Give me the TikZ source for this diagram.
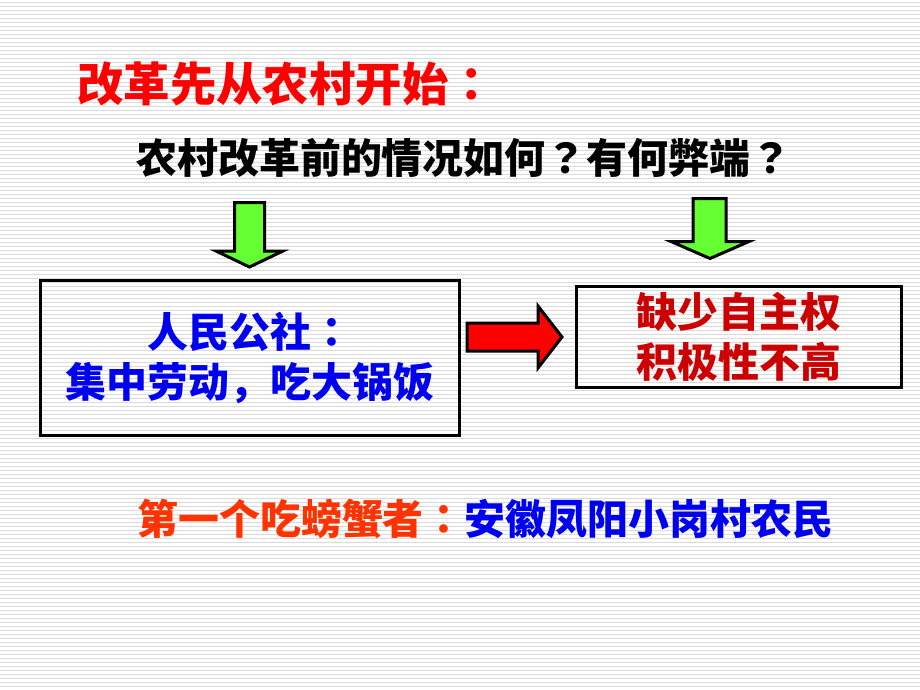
\documentclass[tikz,border=0pt]{standalone}
\usepackage{fontspec}
\setmainfont{Noto Sans CJK SC}
\newfontfamily\jpfont{Noto Sans CJK JP}
\newcommand{\midpunct}[1]{{\jpfont #1}}
\definecolor{titlered}{HTML}{FF0000}
\definecolor{lackred}{HTML}{CC0000}
\definecolor{communeblue}{HTML}{0000F0}
\definecolor{pioneerorange}{HTML}{FF3300}
\definecolor{arrowgreen}{HTML}{66FF33}
\begin{document}
\begin{tikzpicture}[x = 0.02cm, y = -0.02cm,
	stripe/.style = {draw = gray!28, line width = 0.02cm},
	txt/.style = {inner sep = 0pt, font = \fontsize{23.3pt}{28.5pt}\selectfont\bfseries},
	box/.style = {draw = black, line width = 0.06cm, align = center, inner sep = 0pt},
	greenarrow/.style = {fill = arrowgreen, draw = black, line width = 0.06cm},
	redarrow/.style = {fill = titlered, draw = black, line width = 0.06cm}]

	\useasboundingbox (0,0) rectangle (920,690);
	\fill[white] (0,0) rectangle (920,690);
	\foreach \y in {2,6,...,690}
		\draw[stripe] (0,\y) -- (920,\y);

	\node[txt, anchor = west, text = titlered,
		  font = \fontsize{26.4pt}{30pt}\selectfont\bfseries] (title) at (77,83.5) {改革先从农村开始\midpunct{：}};
	\node[txt, anchor = west] (question) at (136,157.5) {农村改革前的情况如何\midpunct{？}有何弊端\midpunct{？}};

	\node[box, txt, text = communeblue,
		  minimum width = 8.4cm, minimum height = 3.12cm] (commune) at (250,358)
		  {人民公社\midpunct{：}\\集中劳动，吃大锅饭};
	\node[box, txt, text = lackred,
		  minimum width = 6.51cm, minimum height = 2.04cm] (lack) at (739,337)
		  {缺少自主权\\积极性不高};

	\node[txt, anchor = west] (pioneer) at (137,518.5)
		  {\textcolor{pioneerorange}{第一个吃螃蟹者\midpunct{：}}\textcolor{communeblue}{安徽凤阳小岗村农民}};

	\filldraw[greenarrow] (234.5,202.5) -- (264.5,202.5) -- (264.5,251) -- (283,251)
		-- (249.5,267) -- (216,251) -- (234.5,251) -- cycle;
	\filldraw[greenarrow] (693,198.5) -- (726,198.5) -- (726,241.5) -- (749,241.5)
		-- (710,258.5) -- (671,241.5) -- (693,241.5) -- cycle;
	\filldraw[redarrow] (467,323) -- (538,323) -- (538,306) -- (562,337)
		-- (538,368) -- (538,351) -- (467,351) -- cycle;
\end{tikzpicture}
\end{document}
